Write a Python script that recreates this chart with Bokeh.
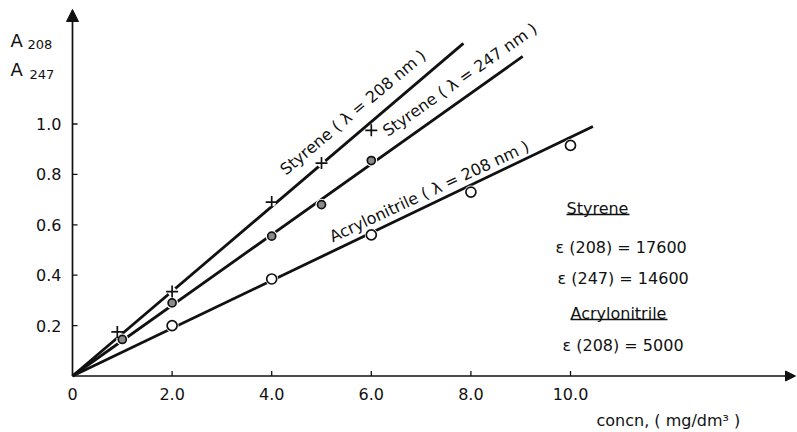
import math
from bokeh.plotting import figure
from bokeh.models import Range1d, Arrow, NormalHead
from bokeh.embed import file_html
from bokeh.resources import INLINE
from bokeh.core.properties import value

# ---------------- data ----------------
styrene208_conc = [0.9, 2.0, 4.0, 5.0, 6.0]
styrene208_abs = [0.175, 0.335, 0.69, 0.845, 0.975]
styrene247_conc = [1.0, 2.0, 4.0, 5.0, 6.0]
styrene247_abs = [0.145, 0.29, 0.555, 0.68, 0.855]
acrylo_conc = [2.0, 4.0, 6.0, 8.0, 10.0]
acrylo_abs = [0.20, 0.385, 0.56, 0.73, 0.915]

fit208_conc = [0.0, 7.85]
fit208_abs = [0.0, 1.32]
fit247_conc = [0.0, 9.04]
fit247_abs = [0.0, 1.268]
fitac_conc = [0.0, 10.45]
fitac_abs = [0.0, 0.99]

x_ticks = [2.0, 4.0, 6.0, 8.0, 10.0]
x_tick_labels = ["2.0", "4.0", "6.0", "8.0", "10.0"]
y_ticks = [0.2, 0.4, 0.6, 0.8, 1.0]
y_tick_labels = ["0.2", "0.4", "0.6", "0.8", "1.0"]

# ---------------- layout ----------------
W, H = 797, 432
OX, OY = 72.0, 375.5      # pixel position of the origin inside the figure
SX, SY = 49.8, 252.0      # pixels per data unit


def X(px):  # pixel -> data x
    return (px - OX) / SX


def Y(py):  # pixel -> data y
    return (OY - py) / SY


FONT = value("DejaVu Sans")
INK = "#111111"

p = figure(width=W, height=H, output_backend="svg", toolbar_location=None,
           x_range=Range1d(-OX / SX, (W - OX) / SX),
           y_range=Range1d(-(H - OY) / SY, OY / SY),
           x_axis_location=None, y_axis_location=None,
           min_border=0, title=None)
p.outline_line_color = None
p.grid.visible = False
p.background_fill_color = "white"
p.border_fill_color = "white"

# axes with arrow heads
p.add_layout(Arrow(end=NormalHead(size=12, fill_color=INK, line_color=INK, line_width=1),
                   x_start=0, y_start=0, x_end=0, y_end=Y(9),
                   line_color=INK, line_width=1.7))
p.add_layout(Arrow(end=NormalHead(size=10, fill_color=INK, line_color=INK, line_width=1),
                   x_start=0, y_start=0, x_end=X(795), y_end=0,
                   line_color=INK, line_width=1.7))

# ticks (inside)
p.segment(x0=x_ticks, y0=[0] * len(x_ticks), x1=x_ticks, y1=[5 / SY] * len(x_ticks),
          line_color=INK, line_width=1.3)
p.segment(x0=[0] * len(y_ticks), y0=y_ticks, x1=[5 / SX] * len(y_ticks), y1=y_ticks,
          line_color=INK, line_width=1.3)

# tick labels
p.text(x=[0.0] + x_ticks, y=[-12 / SY] * (len(x_ticks) + 1), text=["0"] + x_tick_labels,
       text_align="center", text_baseline="top", text_font=FONT,
       text_font_size="16px", text_color=INK)
p.text(x=[-11 / SX] * len(y_ticks), y=y_ticks, text=y_tick_labels,
       text_align="right", text_baseline="middle", text_font=FONT,
       text_font_size="16px", text_color=INK)

# y axis title  A208 / A247
p.text(x=[X(10), X(10)], y=[Y(40), Y(69)], text=["A", "A"], text_align="left",
       text_baseline="alphabetic", text_font=FONT, text_font_size="18px", text_color=INK)
p.text(x=[X(27), X(29)], y=[Y(44), Y(74)], text=["208", "247"], text_align="left",
       text_baseline="alphabetic", text_font=FONT, text_font_size="13px", text_color=INK)

# x axis title
p.text(x=[X(596)], y=[Y(420)], text=["concn,  ( mg/dm³ )"], text_align="left",
       text_baseline="alphabetic", text_font=FONT, text_font_size="16px", text_color=INK)

# fitted lines
for fx, fy in ((fit208_conc, fit208_abs), (fit247_conc, fit247_abs), (fitac_conc, fitac_abs)):
    p.line(fx, fy, line_color=INK, line_width=2.8)

# white halos breaking the lines at the points
p.scatter(styrene208_conc, styrene208_abs, marker="circle", size=9,
          fill_color="white", line_color=None)
p.scatter(styrene247_conc, styrene247_abs, marker="circle", size=12,
          fill_color="white", line_color=None)
p.scatter(acrylo_conc, acrylo_abs, marker="circle", size=13,
          fill_color="white", line_color=None)

# markers
p.scatter(styrene208_conc, styrene208_abs, marker="cross", size=12,
          line_color=INK, line_width=1.7)
p.scatter(styrene247_conc, styrene247_abs, marker="circle", size=8,
          fill_color="#8a8a8a", line_color=INK, line_width=1.7)
p.scatter(acrylo_conc, acrylo_abs, marker="circle", size=10,
          fill_color="white", line_color=INK, line_width=1.7)

# line labels
p.text(x=[X(282)], y=[Y(171)], text=["Styrene ( λ = 208 nm )"], angle=math.radians(40),
       text_align="left", text_baseline="alphabetic", text_font=FONT,
       text_font_size="16px", text_color=INK)
p.text(x=[X(384)], y=[Y(132)], text=["Styrene ( λ = 247 nm )"], angle=math.radians(35),
       text_align="left", text_baseline="alphabetic", text_font=FONT,
       text_font_size="16px", text_color=INK)
p.text(x=[X(330)], y=[Y(237)], text=["Acrylonitrile ( λ = 208 nm )"], angle=math.radians(25),
       text_align="left", text_baseline="alphabetic", text_font=FONT,
       text_font_size="16px", text_color=INK)

# extinction coefficient notes
p.text(x=[X(566), X(555), X(557), X(570), X(562)],
       y=[Y(208), Y(247), Y(278), Y(313), Y(345)],
       text=["Styrene", "ε (208)  = 17600", "ε (247)  = 14600", "Acrylonitrile", "ε (208)  = 5000"],
       text_align="left", text_baseline="alphabetic", text_font=FONT,
       text_font_size="16px", text_color=INK)
p.segment(x0=[X(566), X(570)], y0=[Y(214), Y(319)], x1=[X(629), X(667)], y1=[Y(214), Y(319)],
          line_color=INK, line_width=1.3)

open("out.html", "w").write(file_html(p, INLINE))
